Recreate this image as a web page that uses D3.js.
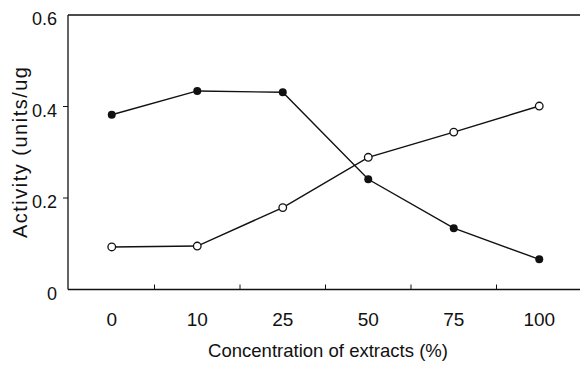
<!DOCTYPE html>
<html><head><meta charset="utf-8">
<script src="https://cdn.jsdelivr.net/npm/d3@7"></script>
<style>body{margin:0;background:#fff}svg{display:block}text{font-family:"Liberation Sans",Arial,sans-serif;fill:#111}</style>
</head><body><svg id="c" width="580" height="365"></svg>
<script>
const categories = ["0","10","25","50","75","100"];
const filledValues = [0.382, 0.434, 0.431, 0.241, 0.134, 0.066];
const openValues = [0.093, 0.095, 0.179, 0.289, 0.344, 0.401];
const yTicks = [0, 0.2, 0.4, 0.6];
const yLabels = ["0", "0.2", "0.4", "0.6"];

const svg = d3.select("#c");
const x = d3.scaleBand().domain(categories).range([69, 582]);
const y = d3.scaleLinear().domain([0, 0.6]).range([289.5, 15]);
const cx = d => x(d) + x.bandwidth() / 2;

// frame: top and left
svg.append("line").attr("x1", 68).attr("x2", 580).attr("y1", y(0.6)).attr("y2", y(0.6)).attr("stroke", "#111").attr("stroke-width", 1.3);
svg.append("line").attr("x1", 68).attr("x2", 68).attr("y1", y(0.6)).attr("y2", y(0)).attr("stroke", "#111").attr("stroke-width", 1.3);
svg.append("line").attr("x1", 68).attr("x2", 580).attr("y1", y(0)).attr("y2", y(0)).attr("stroke", "#111").attr("stroke-width", 1.5);

// y ticks
const yAxis = svg.append("g");
yTicks.forEach((t, i) => {
  if (t > 0 && t < 0.6) yAxis.append("line").attr("x1", 63).attr("x2", 68).attr("y1", y(t)).attr("y2", y(t)).attr("stroke", "#111");
  yAxis.append("text").attr("x", 57).attr("y", y(t) + 4).attr("dy", "0.36em").attr("text-anchor", "end").attr("font-size", 18).text(yLabels[i]);
});

// x ticks between categories (inside)
categories.slice(1).forEach(c => {
  svg.append("line").attr("x1", x(c)).attr("x2", x(c)).attr("y1", y(0)).attr("y2", y(0) - 5).attr("stroke", "#111");
});
categories.forEach(c => {
  svg.append("text").attr("x", cx(c)).attr("y", 319).attr("dy", "0.36em").attr("text-anchor", "middle").attr("font-size", 19).text(c);
});

svg.append("text").attr("x", 328).attr("y", 350).attr("dy", "0.36em").attr("text-anchor", "middle").attr("font-size", 19)
  .attr("textLength", 240).attr("lengthAdjust", "spacingAndGlyphs").text("Concentration of extracts (%)");
svg.append("text").attr("transform", "translate(27,152.5) rotate(-90)").attr("text-anchor", "middle").attr("font-size", 20)
  .attr("textLength", 171).attr("lengthAdjust", "spacing").text("Activity (units/ug");

const line = d3.line().x((d, i) => cx(categories[i])).y(d => y(d));
svg.append("path").datum(filledValues).attr("d", line).attr("fill", "none").attr("stroke", "#111").attr("stroke-width", 1.4);
svg.append("path").datum(openValues).attr("d", line).attr("fill", "none").attr("stroke", "#111").attr("stroke-width", 1.4);

svg.selectAll(".f").data(filledValues).join("circle").attr("cx", (d, i) => cx(categories[i])).attr("cy", d => y(d)).attr("r", 4).attr("fill", "#111");
svg.selectAll(".o").data(openValues).join("circle").attr("cx", (d, i) => cx(categories[i])).attr("cy", d => y(d)).attr("r", 3.8).attr("fill", "#fff").attr("stroke", "#111").attr("stroke-width", 1.3);
</script></body></html>
